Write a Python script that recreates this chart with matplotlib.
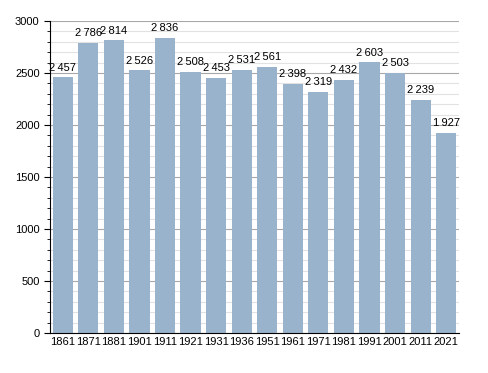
import numpy as np
import matplotlib
matplotlib.use("Agg")
from matplotlib import pyplot as plt
from matplotlib.ticker import MultipleLocator

years = ["1861", "1871", "1881", "1901", "1911", "1921", "1931", "1936", "1951",
         "1961", "1971", "1981", "1991", "2001", "2011", "2021"]
pop = [2457, 2786, 2814, 2526, 2836, 2508, 2453, 2531, 2561,
       2398, 2319, 2432, 2603, 2503, 2239, 1927]

plt.rcParams['font.family'] = ['Liberation Sans', 'DejaVu Sans']

fig = plt.figure(figsize=(4.88, 3.73), dpi=100)
ax = fig.add_axes([0.1025, 0.107, 0.838, 0.837])

x = np.arange(len(years))
ax.bar(x, pop, width=0.79, color='#9ab3cd', zorder=2)
for xi, v in zip(x, pop):
    s = "{:,}".format(v).replace(",", "\u2009")
    ax.text(xi, v + 45, s, ha='center', va='bottom', fontsize=8, zorder=3)

ax.set_xlim(-0.5, len(years) - 0.5)
ax.set_ylim(0, 3000)
ax.set_xticks(x)
ax.set_xticklabels(years, fontsize=8)
ax.yaxis.set_major_locator(MultipleLocator(500))
ax.yaxis.set_minor_locator(MultipleLocator(100))
ax.tick_params(axis='y', labelsize=8, length=4)
ax.tick_params(axis='y', which='minor', length=2)
ax.tick_params(axis='x', length=0, pad=3)
ax.grid(axis='y', which='major', color='#a8a8a8', linewidth=0.8, zorder=0)
ax.grid(axis='y', which='minor', color='#e2e2e2', linewidth=0.8, zorder=0)
ax.set_axisbelow(True)
for side in ['top', 'right']:
    ax.spines[side].set_visible(False)

fig.savefig("out.png", dpi=100)
